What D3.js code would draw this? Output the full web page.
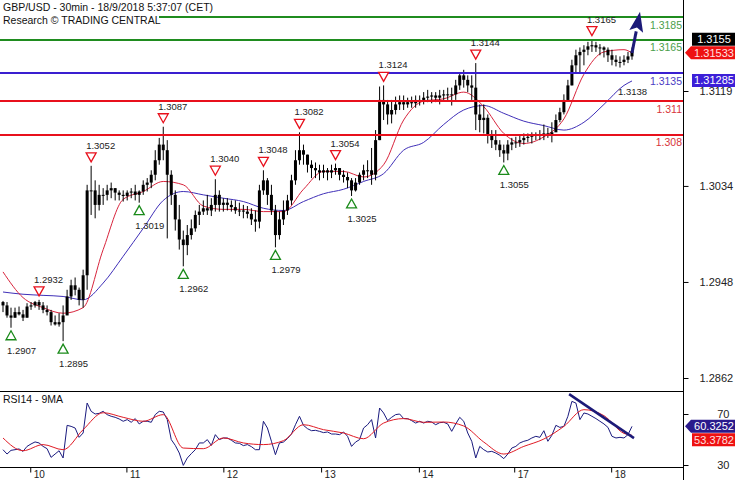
<!DOCTYPE html>
<html><head><meta charset="utf-8">
<script src="https://cdn.jsdelivr.net/npm/d3@7"></script>
<style>body{margin:0;background:#fff}svg{display:block;font-family:"Liberation Sans",Arial,sans-serif}</style>
</head><body>
<svg id="c" width="735" height="480"></svg>
<script>
// ---------- DATA (hourly bars, index 0 .. 157) ----------
const highs = [
1.2931,1.2930,1.2925,1.2925,1.2926,1.2923,1.2929,1.2930,1.2931,1.2932,
1.2930,1.2927,1.2923,1.2918,1.2920,1.2927,1.2941,1.2950,1.2952,1.2943,
1.2959,1.3035,1.3052,1.3039,1.3035,1.3032,1.3035,1.3037,1.3032,1.3030,
1.3030,1.3030,1.3032,1.3035,1.3030,1.3039,1.3041,1.3048,1.3066,1.3077,
1.3087,1.3075,1.3048,1.3030,1.3017,1.2994,1.2999,1.3004,1.3012,1.3017,
1.3021,1.3026,1.3023,1.3040,1.3030,1.3023,1.3023,1.3021,1.3021,1.3019,
1.3017,1.3016,1.3014,1.3012,1.3035,1.3048,1.3041,1.3035,1.3017,1.3011,
1.3021,1.3026,1.3044,1.3066,1.3082,1.3071,1.3062,1.3057,1.3055,1.3053,
1.3053,1.3050,1.3053,1.3054,1.3050,1.3048,1.3046,1.3041,1.3041,1.3046,
1.3053,1.3057,1.3068,1.3084,1.3123,1.3124,1.3111,1.3111,1.3114,1.3115,
1.3115,1.3113,1.3114,1.3115,1.3115,1.3118,1.3120,1.3118,1.3118,1.3120,
1.3120,1.3122,1.3122,1.3129,1.3136,1.3138,1.3133,1.3133,1.3144,1.3107,
1.3107,1.3098,1.3084,1.3084,1.3075,1.3071,1.3075,1.3077,1.3078,1.3080,
1.3081,1.3081,1.3082,1.3082,1.3084,1.3089,1.3086,1.3091,1.3098,1.3104,
1.3116,1.3129,1.3147,1.3156,1.3158,1.3160,1.3163,1.3165,1.3163,1.3161,
1.3159,1.3158,1.3156,1.3151,1.3150,1.3151,1.3154,1.3158];
const lows = [
1.2921,1.2916,1.2907,1.2916,1.2918,1.2913,1.2916,1.2923,1.2925,1.2923,
1.2920,1.2918,1.2909,1.2909,1.2908,1.2895,1.2921,1.2932,1.2936,1.2927,
1.2925,1.2941,1.3008,1.3005,1.3012,1.3017,1.3021,1.3023,1.3021,1.3021,
1.3020,1.3021,1.3023,1.3021,1.3019,1.3026,1.3029,1.3032,1.3039,1.3053,
1.3057,1.2987,1.3017,1.2994,1.2977,1.2962,1.2972,1.2986,1.2993,1.2999,
1.3008,1.3008,1.3007,1.3011,1.3011,1.3011,1.3012,1.3011,1.3009,1.3007,
1.3005,1.3005,1.2999,1.2993,1.2996,1.3026,1.3017,1.3008,1.2979,1.2986,
1.2999,1.3008,1.3017,1.3035,1.3053,1.3053,1.3046,1.3041,1.3041,1.3039,
1.3041,1.3039,1.3041,1.3044,1.3039,1.3037,1.3032,1.3025,1.3029,1.3035,
1.3039,1.3041,1.3035,1.3039,1.3075,1.3093,1.3089,1.3090,1.3098,1.3102,
1.3102,1.3104,1.3104,1.3104,1.3106,1.3107,1.3109,1.3108,1.3109,1.3107,
1.3111,1.3111,1.3106,1.3111,1.3120,1.3122,1.3118,1.3111,1.3084,1.3082,
1.3081,1.3072,1.3068,1.3066,1.3060,1.3055,1.3057,1.3066,1.3068,1.3069,
1.3071,1.3073,1.3072,1.3075,1.3075,1.3075,1.3077,1.3073,1.3084,1.3091,
1.3098,1.3111,1.3124,1.3136,1.3136,1.3142,1.3151,1.3154,1.3154,1.3151,
1.3149,1.3145,1.3142,1.3141,1.3140,1.3142,1.3144,1.3147];
const closes = [
1.2927,1.2918,1.2916,1.2921,1.2919,1.2916,1.2926,1.2927,1.2930,1.2927,
1.2923,1.2921,1.2912,1.2910,1.2912,1.2918,1.2935,1.2945,1.2941,1.2932,
1.2954,1.3030,1.3030,1.3017,1.3026,1.3026,1.3030,1.3032,1.3028,1.3026,
1.3025,1.3028,1.3029,1.3026,1.3029,1.3035,1.3037,1.3044,1.3057,1.3071,
1.3066,1.3044,1.3026,1.3004,1.2986,1.2981,1.2990,1.2996,1.3008,1.3011,
1.3014,1.3012,1.3017,1.3026,1.3017,1.3019,1.3017,1.3015,1.3012,1.3012,
1.3011,1.3009,1.3004,1.3002,1.3030,1.3039,1.3026,1.3012,1.2990,1.3004,
1.3012,1.3021,1.3039,1.3057,1.3066,1.3062,1.3053,1.3050,1.3048,1.3046,
1.3048,1.3046,1.3048,1.3050,1.3044,1.3042,1.3039,1.3030,1.3037,1.3044,
1.3048,1.3048,1.3044,1.3075,1.3111,1.3107,1.3098,1.3102,1.3107,1.3109,
1.3107,1.3109,1.3108,1.3111,1.3111,1.3113,1.3114,1.3115,1.3113,1.3115,
1.3116,1.3116,1.3116,1.3124,1.3133,1.3129,1.3124,1.3122,1.3098,1.3093,
1.3095,1.3080,1.3075,1.3071,1.3066,1.3063,1.3071,1.3073,1.3073,1.3075,
1.3077,1.3078,1.3079,1.3080,1.3079,1.3081,1.3080,1.3082,1.3093,1.3100,
1.3111,1.3124,1.3142,1.3151,1.3154,1.3156,1.3159,1.3160,1.3158,1.3158,
1.3156,1.3151,1.3147,1.3145,1.3145,1.3147,1.3150,1.3155];
const firstOpen = 1.2930;

// moving averages read every 5 bars (+ last bar)
const maIdx = [0,5,10,15,20,25,30,35,40,45,50,55,60,65,70,75,80,85,90,95,100,105,110,115,120,125,130,135,140,145,150,155,157];
const maRed = [1.2957,1.2934,1.2925,1.2920,1.2925,1.2977,1.3022,1.3029,1.3038,1.3035,1.3016,1.3013,1.3013,1.3011,1.3011,1.3031,1.3047,1.3047,1.3042,1.3053,1.3093,1.3110,1.3112,1.3118,1.3105,1.3081,1.3072,1.3078,1.3094,1.3134,1.3154,1.3156,1.3153];
const maBlue = [1.2939,1.2937,1.2936,1.2935,1.2932,1.2947,1.2971,1.2996,1.3021,1.3029,1.3026,1.3023,1.3020,1.3014,1.3012,1.3020,1.3027,1.3031,1.3038,1.3045,1.3066,1.3073,1.3089,1.3102,1.3106,1.3099,1.3092,1.3088,1.3084,1.3091,1.3107,1.3124,1.3128];

// RSI14 per bar and its 9MA (every 5 bars)
const rsi = [
42.0,38.6,41.5,42.0,42.6,40.7,44.6,46.5,48.1,47.3,
44.6,42.8,36.0,38.6,41.2,35.5,61.1,60.3,59.0,51.7,
55.1,78.6,72.1,70.0,70.5,72.1,69.5,68.2,67.4,66.1,
64.3,65.6,63.5,66.4,62.2,64.3,64.3,63.5,69.5,72.1,
71.6,65.6,49.9,45.4,39.4,29.7,35.5,38.9,42.0,47.3,
47.3,49.9,45.4,53.8,49.9,51.2,51.2,49.4,47.3,47.0,
45.2,46.0,44.4,42.0,42.0,64.3,59.0,48.6,38.1,47.3,
48.0,50.7,54.3,61.6,68.2,61.1,58.5,56.9,57.2,56.4,
55.4,55.9,54.3,54.3,53.8,55.9,52.5,44.6,48.0,49.9,
59.0,61.6,65.6,51.2,74.7,70.8,64.8,67.4,69.5,70.0,
66.4,66.4,64.8,62.9,64.3,62.9,64.3,63.7,61.6,63.2,
63.5,62.2,56.4,62.2,67.4,64.3,55.1,48.6,35.5,44.6,
42.0,40.2,40.7,39.4,37.6,35.0,38.6,43.3,44.6,47.3,
48.6,49.4,51.2,52.5,51.7,56.9,48.6,53.3,61.1,59.5,
60.3,68.2,79.9,78.6,65.6,70.8,70.0,68.2,66.4,64.3,
62.2,59.5,52.5,51.2,51.7,51.2,53.8,60.3];
const rsiMa = [51.2,41.2,46.0,42.0,57.7,71.0,67.4,64.3,69.5,43.3,42.8,51.2,47.3,46.0,49.1,61.6,57.7,55.1,50.6,62.9,66.4,63.5,63.7,60.6,48.0,38.6,44.6,50.4,60.3,73.4,68.7,54.8,53.3];

// annotations
const levelValues = [1.3185, 1.3165, 1.3135, 1.311, 1.308];
const levelLabels = ["1.3185", "1.3165", "1.3135", "1.311", "1.308"];
const levelKinds  = ["target", "target", "pivot", "support", "support"];
const peakIdx   = [9, 22, 40, 53, 65, 74, 83, 95, 118, 147];
const peakVals  = [1.2932, 1.3052, 1.3087, 1.3040, 1.3048, 1.3082, 1.3054, 1.3124, 1.3144, 1.3165];
const troughIdx  = [2, 15, 34, 45, 68, 87, 125];
const troughVals = [1.2907, 1.2895, 1.3019, 1.2962, 1.2979, 1.3025, 1.3055];
const maLabel = "1.3138";
const arrowStart = [157, 1.3153], arrowEnd = [159, 1.3190];
const rsiTrendStart = [141.3, 85.6], rsiTrendEnd = [157.5, 51.1];

const priceTicks = [1.3119, 1.3034, 1.2948, 1.2862];
const rsiTicks = [70, 30];
const dayLabels = ["10", "11", "12", "13", "14", "17", "18"];
const dayIdx = [6.8, 30.8, 55, 79.4, 103.8, 127.6, 151.8];

const lastPrice = 1.3155, lastRedMa = 1.31533, lastBlueMa = 1.31285;
const lastRsi = 60.3252, lastRsiMa = 53.3782;
const title1 = "GBP/USD - 30min - 18/9/2018 5:37:07 (CET)";
const title2 = "Research \u00A9 TRADING CENTRAL";
const rsiTitle = "RSI14 - 9MA";

// ---------- DRAWING ----------
const svg = d3.select("#c");
const AX = 683;
const x = d3.scaleLinear().domain([0, 157]).range([3, 632]);
const y = d3.scaleLinear().domain([1.2862, 1.3119]).range([378, 91]);
const yr = d3.scaleLinear().domain([30, 70]).range([465, 414]);

const C = {
  green: "#1f8c1f", greenText: "#4a9e4a", blue: "#3a1fd0", blueText: "#4a3cc4",
  red: "#e8101c", redText: "#d8343a", maRed: "#d8243c", maBlue: "#3f2fb8",
  navy: "#1c1a78", rsiBlue: "#1a1a7e", rsiRed: "#e01a24"
};
const lvlColor = {target: C.green, pivot: C.blue, support: C.red};
const lvlText = {target: C.greenText, pivot: C.blueText, support: C.redText};

const main = svg.append("g");
const clipM = svg.append("clipPath").attr("id", "cm").append("rect").attr("x", 0).attr("y", 0).attr("width", AX).attr("height", 391);
const clipR = svg.append("clipPath").attr("id", "cr").append("rect").attr("x", 0).attr("y", 392).attr("width", AX).attr("height", 75);

const bars = closes.map((c, i) => ({i, o: i === 0 ? firstOpen : closes[i - 1], h: highs[i], l: lows[i], c}));
const pm = main.append("g").attr("clip-path", "url(#cm)");

// moving averages
const maLine = (arr) => d3.line().x((d, k) => x(maIdx[k])).y(d => y(d)).curve(d3.curveMonotoneX)(arr);
pm.append("path").attr("d", maLine(maBlue)).attr("fill", "none").attr("stroke", C.maBlue).attr("stroke-width", 1);
pm.append("path").attr("d", maLine(maRed)).attr("fill", "none").attr("stroke", C.maRed).attr("stroke-width", 1);

// bars
pm.append("g").selectAll("line").data(bars).join("line")
  .attr("x1", d => x(d.i)).attr("x2", d => x(d.i))
  .attr("y1", d => y(d.h)).attr("y2", d => y(d.l))
  .attr("stroke", "#000").attr("stroke-width", 1);
pm.append("g").selectAll("rect").data(bars).join("rect")
  .attr("x", d => x(d.i) - 1.5).attr("width", 3)
  .attr("y", d => y(Math.max(d.o, d.c)))
  .attr("height", d => Math.max(1, Math.abs(y(d.o) - y(d.c))))
  .attr("fill", "#000");

// level lines
levelValues.forEach((v, k) => {
  pm.append("line").attr("x1", 0).attr("x2", AX).attr("y1", Math.round(y(v)) + 0.0).attr("y2", Math.round(y(v)))
    .attr("stroke", lvlColor[levelKinds[k]]).attr("stroke-width", 2);
  pm.append("text").attr("x", AX - 1).attr("y", y(v) + 11.5).attr("text-anchor", "end")
    .attr("font-size", "10.5px").attr("fill", lvlText[levelKinds[k]]).text(levelLabels[k]);
});

// MA label
pm.append("text").attr("x", x(153.5)).attr("y", y(1.3119) + 4).attr("font-size", "9.5px").attr("fill", "#222").text(maLabel);

// markers
peakIdx.forEach((idx, k) => {
  const cx = x(idx), ty = y(peakVals[k]) - 4;
  pm.append("path").attr("d", `M${cx},${ty}L${cx - 5},${ty - 9}L${cx + 5},${ty - 9}Z`)
    .attr("fill", "#fff").attr("stroke", C.red).attr("stroke-width", 1.3);
  pm.append("text").attr("x", cx - 5).attr("y", ty - 13).attr("font-size", "9.5px").attr("fill", "#222")
    .text(peakVals[k].toFixed(4));
});
troughIdx.forEach((idx, k) => {
  const cx = x(idx), ty = y(troughVals[k]) + 3;
  pm.append("path").attr("d", `M${cx},${ty}L${cx - 5},${ty + 9}L${cx + 5},${ty + 9}Z`)
    .attr("fill", "#fff").attr("stroke", "#1a8a1a").attr("stroke-width", 1.3);
  pm.append("text").attr("x", cx - 4).attr("y", ty + 23).attr("font-size", "9.5px").attr("fill", "#222")
    .text(troughVals[k].toFixed(4));
});

// arrow
{
  const x0 = x(arrowStart[0]), y0 = y(arrowStart[1]), x1 = x(arrowEnd[0]), y1 = y(arrowEnd[1]);
  const ang = Math.atan2(y1 - y0, x1 - x0);
  const hl = 20, hw = 7;
  const bx = x1 - hl * Math.cos(ang), by = y1 - hl * Math.sin(ang);
  const nx = -Math.sin(ang), ny = Math.cos(ang);
  svg.append("line").attr("x1", x0).attr("y1", y0).attr("x2", bx).attr("y2", by)
    .attr("stroke", C.navy).attr("stroke-width", 3);
  svg.append("path").attr("d", `M${x1},${y1}L${bx + nx * hw},${by + ny * hw}L${bx + 4 * Math.cos(ang)},${by + 4 * Math.sin(ang)}L${bx - nx * hw},${by - ny * hw}Z`)
    .attr("fill", C.navy);
}

// header
svg.append("rect").attr("x", 0).attr("y", 0).attr("width", 159).attr("height", 26).attr("fill", "#fff");
svg.append("text").attr("x", 3).attr("y", 10.5).attr("font-size", "10.5px").attr("fill", "#111").text(title1);
svg.append("text").attr("x", 3).attr("y", 23.5).attr("font-size", "10.5px").attr("fill", "#111").text(title2);

// RSI panel
const rp = svg.append("g").attr("clip-path", "url(#cr)");
rp.append("path").attr("d", d3.line().x((d, i) => x(i)).y(d => yr(d))(rsi))
  .attr("fill", "none").attr("stroke", C.rsiBlue).attr("stroke-width", 1);
rp.append("path").attr("d", d3.line().x((d, k) => x(maIdx[k])).y(d => yr(d)).curve(d3.curveMonotoneX)(rsiMa))
  .attr("fill", "none").attr("stroke", C.rsiRed).attr("stroke-width", 1);
rp.append("line").attr("x1", x(rsiTrendStart[0])).attr("y1", yr(rsiTrendStart[1]))
  .attr("x2", x(rsiTrendEnd[0])).attr("y2", yr(rsiTrendEnd[1]))
  .attr("stroke", C.navy).attr("stroke-width", 2.5);
svg.append("text").attr("x", 3).attr("y", 403).attr("font-size", "10.5px").attr("fill", "#111").text(rsiTitle);

// frame lines
svg.append("line").attr("x1", 0).attr("x2", AX).attr("y1", 391.5).attr("y2", 391.5).attr("stroke", "#000");
svg.append("line").attr("x1", 0).attr("x2", AX).attr("y1", 467.5).attr("y2", 467.5).attr("stroke", "#000");
svg.append("line").attr("x1", AX + 0.5).attr("x2", AX + 0.5).attr("y1", 0).attr("y2", 480).attr("stroke", "#000");

// axes
const styleAxis = g => { g.select(".domain").remove(); g.selectAll("line").attr("stroke", "#000"); g.selectAll("text").attr("font-size", "11px").attr("fill", "#222").attr("font-family", "Liberation Sans, Arial, sans-serif"); };
svg.append("g").attr("transform", `translate(${AX + 0.5},0)`)
  .call(d3.axisRight(y).tickValues(priceTicks).tickSize(5).tickPadding(11).tickFormat(d3.format(".4f")))
  .call(styleAxis);
svg.append("g").attr("transform", `translate(${AX + 0.5},0)`)
  .call(d3.axisRight(yr).tickValues(rsiTicks).tickSize(5).tickPadding(11).tickFormat(d3.format("d")))
  .call(styleAxis)
  .call(g => g.selectAll("text").attr("text-anchor", "end").attr("x", 46));
svg.append("g").attr("transform", "translate(0,467.5)")
  .call(d3.axisBottom(x).tickValues(dayIdx).tickSize(5).tickFormat((d, i) => dayLabels[i]))
  .call(styleAxis)
  .call(g => g.selectAll("text").attr("text-anchor", "start").attr("x", 3).attr("y", 10).attr("dy", 0).attr("font-size", "10px"));

// value boxes
function box(yc, fill, txt, color, arrow) {
  const x0 = arrow ? 691 : 692;
  const p = arrow ? `M${AX + 2},${yc}L${x0},${yc - 6.5}L735,${yc - 6.5}L735,${yc + 6.5}L${x0},${yc + 6.5}Z`
                  : `M${x0},${yc - 6.5}L735,${yc - 6.5}L735,${yc + 6.5}L${x0},${yc + 6.5}Z`;
  svg.append("path").attr("d", p).attr("fill", fill);
  svg.append("text").attr("x", 714).attr("y", yc + 4).attr("text-anchor", "middle")
    .attr("font-size", "11px").attr("fill", color).text(txt);
}
const yRed = y(lastRedMa);
box(yRed, "#ee1111", lastRedMa.toFixed(5), "#ffe0e0", true);
box(yRed - 13.5, "#000", lastPrice.toFixed(4), "#fff", false);
box(y(lastBlueMa), "#3c1fd8", lastBlueMa.toFixed(5), "#fff", false);
const yR1 = yr(lastRsi);
box(yR1, "#2a1a8c", lastRsi.toFixed(4), "#fff", true);
box(yR1 + 13.5, "#ee1111", lastRsiMa.toFixed(4), "#ffe0e0", false);
</script>
</body></html>
